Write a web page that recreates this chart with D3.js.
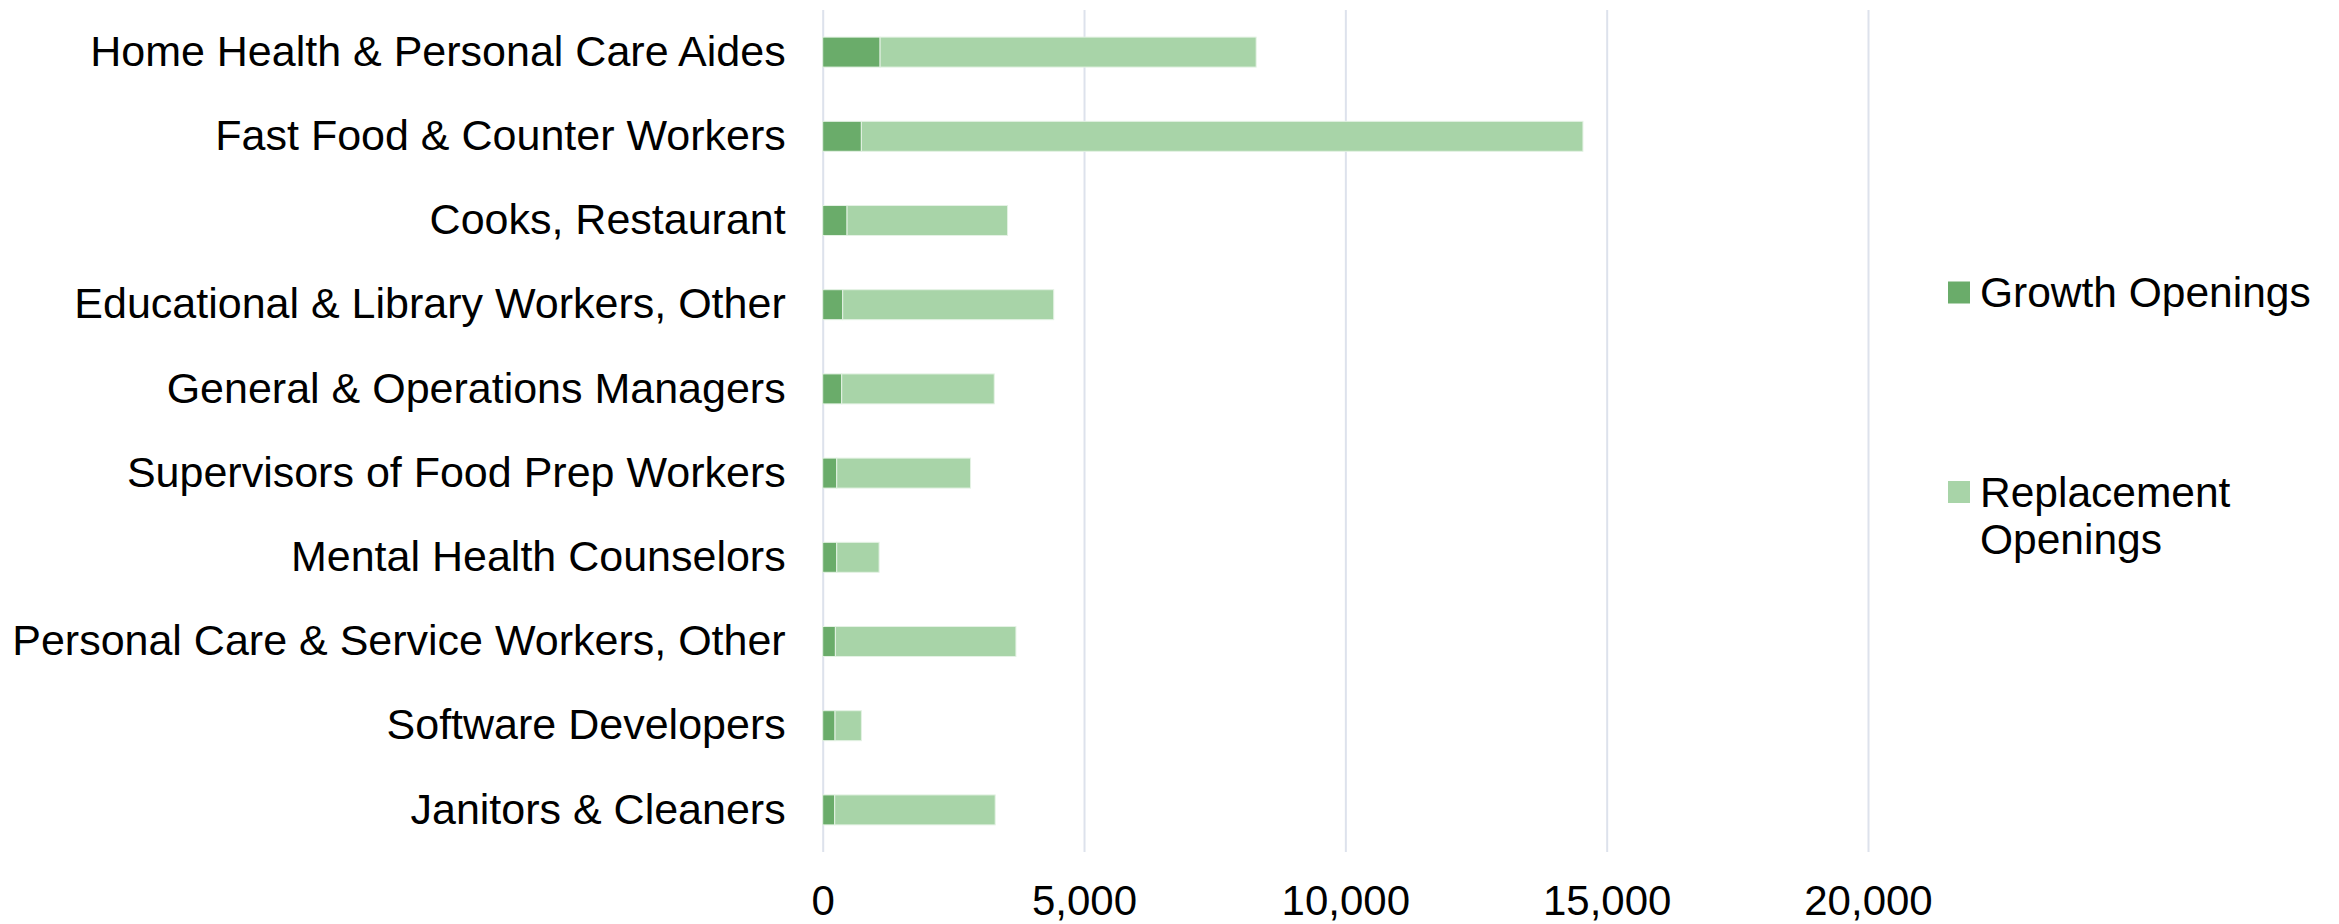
<!DOCTYPE html>
<html>
<head>
<meta charset="utf-8">
<script src="https://cdn.jsdelivr.net/npm/d3@7"></script>
<style>
  html, body { margin: 0; padding: 0; background: #ffffff; }
  svg { display: block; font-family: "Liberation Sans", Arial, sans-serif; }
</style>
</head>
<body>
<svg id="chart" width="2339" height="924"></svg>
<script>
const categories = [
  "Home Health & Personal Care Aides",
  "Fast Food & Counter Workers",
  "Cooks, Restaurant",
  "Educational & Library Workers, Other",
  "General & Operations Managers",
  "Supervisors of Food Prep Workers",
  "Mental Health Counselors",
  "Personal Care & Service Workers, Other",
  "Software Developers",
  "Janitors & Cleaners"
];
const growthOpenings      = [1098, 740, 466, 383, 364, 268, 268, 243, 236, 230];
const replacementOpenings = [7195, 13806, 3071, 4037, 2918, 2561, 811, 3454, 504, 3070];
const xTicks = [0, 5000, 10000, 15000, 20000];
const seriesNames = ["Growth Openings", "Replacement Openings"];
const seriesColors = ["#6aac6a", "#a8d4a8"];

const svg = d3.select("#chart");
const plotLeft = 822.7, plotRight = 1868, plotTop = 10, plotBottom = 852;

const x = d3.scaleLinear().domain([0, 20000]).range([plotLeft, plotRight]);
const y = d3.scaleBand().domain(categories).range([plotTop, plotBottom]).paddingInner(0.644).paddingOuter(0.322);

const rows = categories.map((c, i) => ({ cat: c, growth: growthOpenings[i], replacement: replacementOpenings[i] }));
const stacked = d3.stack().keys(["growth", "replacement"])(rows);

// gridlines
svg.append("g")
  .attr("transform", `translate(0,${plotBottom})`)
  .call(d3.axisBottom(x).tickValues(xTicks).tickSize(-(plotBottom - plotTop)).tickFormat(""))
  .call(g => g.select(".domain").remove())
  .call(g => g.selectAll("line").attr("stroke", "#dde2ec").attr("stroke-width", 2));

// bars
svg.append("g").selectAll("g")
  .data(stacked)
  .join("g")
  .attr("fill", (d, i) => seriesColors[i])
  .selectAll("rect")
  .data(d => d)
  .join("rect")
  .attr("x", d => x(d[0]))
  .attr("width", d => x(d[1]) - x(d[0]))
  .attr("y", d => y(d.data.cat))
  .attr("height", y.bandwidth())
  .attr("stroke", "#e4f2e4")
  .attr("stroke-width", 1);

// x tick labels
svg.append("g")
  .attr("transform", `translate(0,${plotBottom})`)
  .call(d3.axisBottom(x).tickValues(xTicks).tickSize(0).tickPadding(33).tickFormat(d3.format(",")))
  .call(g => g.select(".domain").remove())
  .call(g => g.selectAll("text").attr("font-size", 42).attr("fill", "#000").attr("font-family", "Liberation Sans, Arial, sans-serif"));

// y category labels
svg.append("g")
  .attr("transform", `translate(${plotLeft},0)`)
  .call(d3.axisLeft(y).tickSize(0).tickPadding(37))
  .call(g => g.select(".domain").remove())
  .call(g => g.selectAll("text").attr("font-size", 43).attr("fill", "#000").attr("font-family", "Liberation Sans, Arial, sans-serif"));

// legend
const legend = svg.append("g");
const legendItems = [
  { lines: ["Growth Openings"], y: 292.5 },
  { lines: ["Replacement", "Openings"], y: 492 }
];
legendItems.forEach((it, i) => {
  legend.append("rect")
    .attr("x", 1948).attr("y", it.y - 11)
    .attr("width", 22).attr("height", 22)
    .attr("fill", seriesColors[i]);
  const t = legend.append("text")
    .attr("x", 1980).attr("y", it.y)
    .attr("font-size", 42.5).attr("fill", "#000");
  it.lines.forEach((ln, j) => {
    t.append("tspan").attr("x", 1980).attr("dy", j === 0 ? "0.35em" : "47px").text(ln);
  });
});
</script>
</body>
</html>
